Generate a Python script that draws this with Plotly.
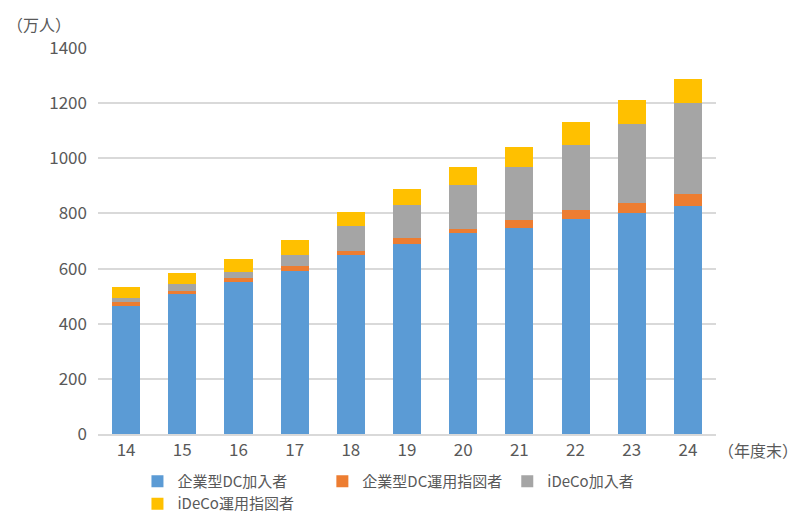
import plotly.graph_objects as go

years = ["14", "15", "16", "17", "18", "19", "20", "21", "22", "23", "24"]
corp_dc = [464, 509, 550, 593, 650, 690, 728, 748, 780, 800, 828]
corp_dc_op = [14, 11, 15, 16, 15, 20, 17, 28, 31, 38, 42]
ideco = [17, 24, 24, 42, 90, 122, 159, 194, 239, 288, 329]
ideco_op = [39, 39, 46, 54, 52, 55, 63, 70, 80, 87, 90]

names = ["企業型DC加入者", "企業型DC運用指図者", "iDeCo加入者", "iDeCo運用指図者"]
colors = ["#5B9BD5", "#ED7D31", "#A5A5A5", "#FFC000"]

fig = go.Figure()
for name, vals, c in zip(names, [corp_dc, corp_dc_op, ideco, ideco_op], colors):
    fig.add_trace(go.Bar(x=years, y=vals, name=name, marker_color=c,
                         marker_line_width=0))

fig.update_layout(
    barmode="stack", bargap=0.5,
    width=800, height=524,
    plot_bgcolor="white", paper_bgcolor="white",
    margin=dict(l=90, r=92, t=40, b=66),
    font=dict(family="Noto Sans CJK JP", size=17, color="#595959"),
    legend=dict(orientation="h", x=0.47, xanchor="center", y=-0.08, yanchor="top",
                font=dict(size=15), traceorder="normal", itemwidth=30),
    annotations=[
        dict(text="（万人）", x=0, y=1.0, xref="paper", yref="paper", xanchor="right",
             yanchor="bottom", xshift=-25, yshift=10, showarrow=False, font=dict(size=16)),
        dict(text="（年度末）", x=1, y=0, xref="paper", yref="paper", xanchor="left",
             yanchor="top", yshift=-2, showarrow=False, font=dict(size=16)),
    ],
)
fig.update_yaxes(range=[0, 1400], dtick=200, gridcolor="#D9D9D9", gridwidth=1.5,
                 zeroline=False, ticks="", ticklabelstandoff=10)
fig.update_xaxes(showline=True, linecolor="#D9D9D9", linewidth=1.5, ticks="")

fig.write_html("out.html")
